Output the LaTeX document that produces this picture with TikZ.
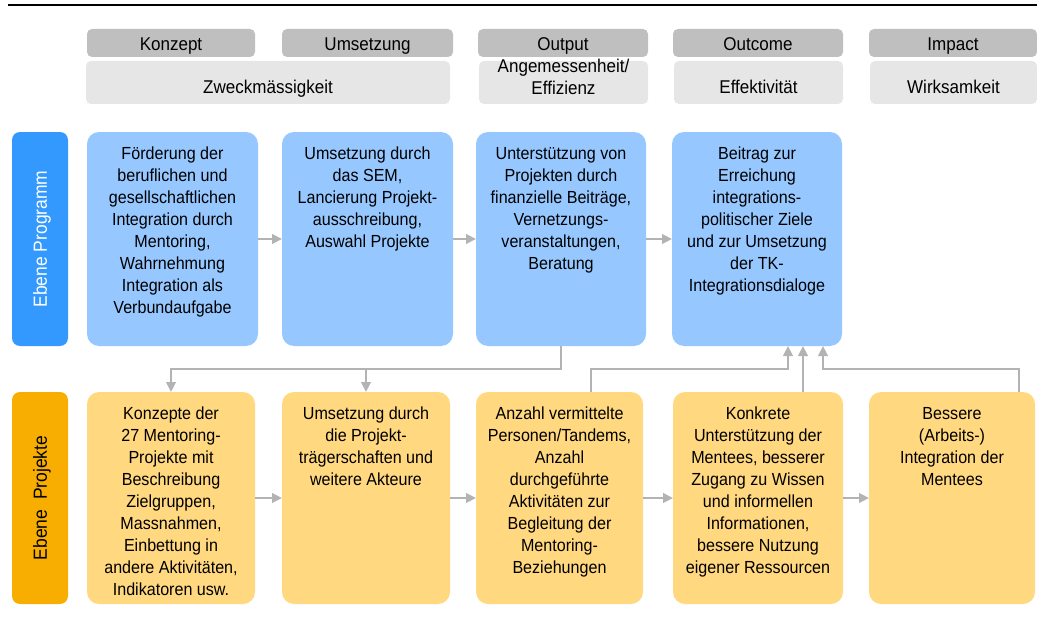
\documentclass[tikz,border=0pt]{standalone}
\usepackage{fontspec}
\setmainfont{Liberation Sans}[FakeStretch=0.92]
\usetikzlibrary{arrows.meta}
\definecolor{hdark}{HTML}{BFBFBF}
\definecolor{hlight}{HTML}{E6E6E6}
\definecolor{progside}{HTML}{3399FF}
\definecolor{progbox}{HTML}{96C8FF}
\definecolor{projside}{HTML}{F7AE00}
\definecolor{projbox}{HTML}{FFD880}
\definecolor{cgray}{HTML}{B3B3B3}
\newcommand\firstln{\rule{0pt}{16pt}}
\begin{document}
\begin{tikzpicture}[x=1pt,y=-1pt,
 hbox/.style={fill=hdark, rounded corners=5pt, inner sep=0pt, outer sep=0pt, anchor=north west, minimum height=28pt},
 gbox/.style={fill=hlight, rounded corners=5pt, inner sep=0pt, outer sep=0pt, anchor=north west, minimum height=43pt},
 htxt/.style={font=\fontsize{18.5}{22}\selectfont, inner sep=0pt, anchor=base, align=center},
 side/.style={rounded corners=8pt, inner sep=0pt, outer sep=0pt, anchor=north west, minimum width=56pt},
 pbox/.style={fill=progbox, rounded corners=12pt, inner sep=0pt, outer sep=0pt, anchor=north west, minimum height=214pt},
 jbox/.style={fill=projbox, rounded corners=12pt, inner sep=0pt, outer sep=0pt, anchor=north west, minimum height=212pt},
 btxt/.style={font=\fontsize{17.5}{22}\selectfont, inner sep=0pt, anchor=north, align=center},
 stxt/.style={font=\fontsize{19}{22}\selectfont, rotate=90, inner sep=0pt, text height=13.6pt, text depth=0pt},
 conn/.style={draw=cgray, line width=2.8pt},
 arr/.style={conn, -{Triangle[length=10pt,width=9.5pt]}}
]
\useasboundingbox (0,0) rectangle (1037,618);

% top rule
\coordinate (tl) at (8,5);
\coordinate (tr) at (1037,5);
\draw[line width=2.2pt] (tl) -- (tr);

% header row 1
\node[hbox, minimum width=168pt] (h1) at (87,29) {};
\node[hbox, minimum width=171pt] (h2) at (282,29) {};
\node[hbox, minimum width=170pt] (h3) at (478,29) {};
\node[hbox, minimum width=170pt] (h4) at (673,29) {};
\node[hbox, minimum width=168pt] (h5) at (869,29) {};
\node[htxt] (h1t) at ([yshift=-7.5pt]h1.center) {Konzept};
\node[htxt] (h2t) at ([yshift=-7.5pt]h2.center) {Umsetzung};
\node[htxt] (h3t) at ([yshift=-7.5pt]h3.center) {Output};
\node[htxt] (h4t) at ([yshift=-7.5pt]h4.center) {Outcome};
\node[htxt] (h5t) at ([yshift=-7.5pt]h5.center) {Impact};

% header row 2
\node[gbox, minimum width=364pt] (g1) at (86,61) {};
\node[gbox, minimum width=169pt] (g2) at (479,61) {};
\node[gbox, minimum width=169pt] (g3) at (674,61) {};
\node[gbox, minimum width=167pt] (g4) at (870,61) {};
\node[htxt] (g1t) at ([yshift=-11pt]g1.center) {Zweckmässigkeit};
\node[htxt, anchor=north] (g2t) at ([yshift=5pt]g2.north) {\firstln Angemessenheit/\\Effizienz};
\node[htxt] (g3t) at ([yshift=-11pt]g3.center) {Effektivität};
\node[htxt] (g4t) at ([yshift=-11pt]g4.center) {Wirksamkeit};

% program row
\node[side, fill=progside, minimum height=214pt] (s1) at (12,132) {};
\node[stxt, text=white] (s1t) at (s1.center) {Ebene Programm};
\node[pbox, minimum width=171pt] (p1) at (87,132) {};
\node[pbox, minimum width=171pt] (p2) at (282,132) {};
\node[pbox, minimum width=170pt] (p3) at (476,132) {};
\node[pbox, minimum width=170pt] (p4) at (672,132) {};
\node[btxt] (p1t) at ([yshift=-11pt]p1.north) {\firstln Förderung der\\beruflichen und\\gesellschaftlichen\\Integration durch\\Mentoring,\\Wahrnehmung\\Integration als\\Verbundaufgabe};
\node[btxt] (p2t) at ([yshift=-11pt]p2.north) {\firstln Umsetzung durch\\das SEM,\\Lancierung Projekt-\\ausschreibung,\\Auswahl Projekte};
\node[btxt] (p3t) at ([yshift=-11pt]p3.north) {\firstln Unterstützung von\\Projekten durch\\finanzielle Beiträge,\\Vernetzungs-\\veranstaltungen,\\Beratung};
\node[btxt] (p4t) at ([yshift=-11pt]p4.north) {\firstln Beitrag zur\\Erreichung\\integrations-\\politischer Ziele\\und zur Umsetzung\\der TK-\\Integrationsdialoge};

% project row
\node[side, fill=projside, minimum height=212pt] (s2) at (12,392) {};
\node[stxt, text=black] (s2t) at (s2.center) {Ebene\ \ Projekte};
\node[jbox, minimum width=168pt] (j1) at (87,392) {};
\node[jbox, minimum width=168pt] (j2) at (282,392) {};
\node[jbox, minimum width=167pt] (j3) at (476,392) {};
\node[jbox, minimum width=170pt] (j4) at (673,392) {};
\node[jbox, minimum width=166pt] (j5) at (869,392) {};
\node[btxt] (j1t) at ([yshift=-11pt]j1.north) {\firstln Konzepte der\\27 Mentoring-\\Projekte mit\\Beschreibung\\Zielgruppen,\\Massnahmen,\\Einbettung in\\andere Aktivitäten,\\Indikatoren usw.};
\node[btxt] (j2t) at ([yshift=-11pt]j2.north) {\firstln Umsetzung durch\\die Projekt-\\trägerschaften und\\weitere Akteure};
\node[btxt] (j3t) at ([yshift=-11pt]j3.north) {\firstln Anzahl vermittelte\\Personen/Tandems,\\Anzahl\\durchgeführte\\Aktivitäten zur\\Begleitung der\\Mentoring-\\Beziehungen};
\node[btxt] (j4t) at ([yshift=-11pt]j4.north) {\firstln Konkrete\\Unterstützung der\\Mentees, besserer\\Zugang zu Wissen\\und informellen\\Informationen,\\bessere Nutzung\\eigener Ressourcen};
\node[btxt] (j5t) at ([yshift=-11pt]j5.north) {\firstln Bessere\\(Arbeits-)\\Integration der\\Mentees};

% horizontal arrows
\draw[arr] (p1) -- (p2);
\draw[arr] (p2) -- (p3);
\draw[arr] (p3) -- (p4);
\draw[arr] (j1) -- (j2);
\draw[arr] (j2) -- (j3);
\draw[arr] (j3) -- (j4);
\draw[arr] (j4) -- (j5);

% vertical connectors
\coordinate (m1) at (0,369);
\coordinate (a3) at (591,0);
\coordinate (a5) at (1019,0);
\coordinate (u1) at (788,0);
\coordinate (u2) at (803,0);
\coordinate (u3) at (823,0);
\draw[arr] (p3.south) -- (p3.south |- m1) -| (j1.north);
\draw[arr] (j2.north |- m1) -- (j2.north);
\draw[arr] (j3.north -| a3) -- (m1 -| a3) -| (p4.south -| u1);
\draw[arr] (j4.north -| u2) -- (p4.south -| u2);
\draw[arr] (j5.north -| a5) -- (m1 -| a5) -| (p4.south -| u3);
\end{tikzpicture}
\end{document}
